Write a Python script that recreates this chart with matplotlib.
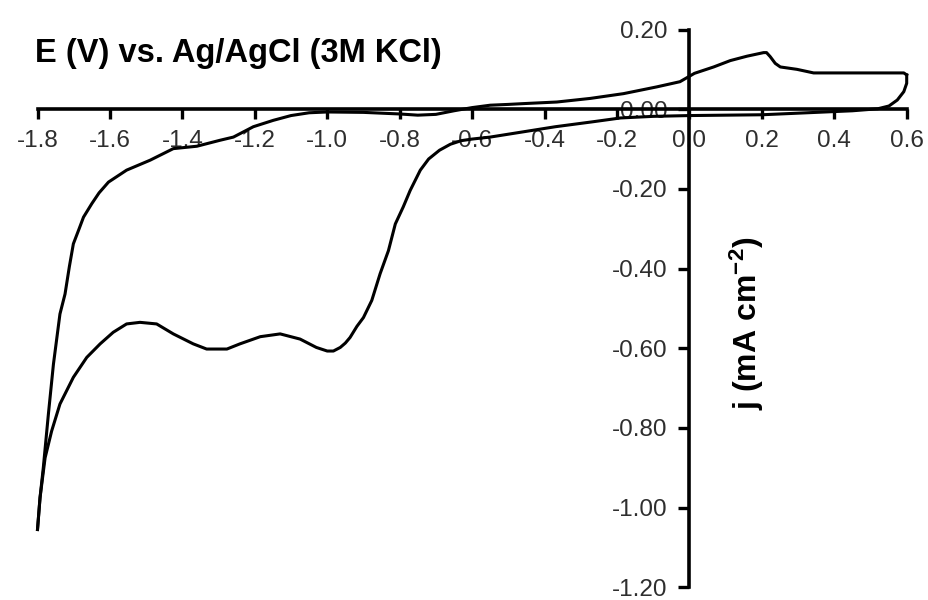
import matplotlib
matplotlib.use("Agg")
import matplotlib.pyplot as plt

plt.rcParams['font.family'] = ['Liberation Sans', 'DejaVu Sans']
plt.rcParams['mathtext.fontset'] = 'custom'
plt.rcParams['mathtext.rm'] = 'Liberation Sans'
plt.rcParams['mathtext.bf'] = 'Liberation Sans:bold'
plt.rcParams['mathtext.it'] = 'Liberation Sans:italic'

# ---- data ----
# cathodic scan: from +0.6 V down to -1.8 V
E_cathodic = [0.60, 0.600, 0.592, 0.574, 0.551, 0.52, 0.45, 0.40, 0.30, 0.20, 0.10, 0.00,
              -0.10, -0.19, -0.27, -0.37, -0.46, -0.55, -0.60, -0.63, -0.66, -0.69, -0.72,
              -0.743, -0.771, -0.79, -0.812, -0.831, -0.854, -0.877, -0.90, -0.918, -0.937,
              -0.95, -0.964, -0.983, -1.00, -1.03, -1.075, -1.13, -1.185, -1.241, -1.277,
              -1.333, -1.37, -1.425, -1.471, -1.517, -1.554, -1.591, -1.627, -1.664, -1.701,
              -1.738, -1.761, -1.779, -1.793, -1.80]
j_cathodic = [0.086, 0.065, 0.044, 0.023, 0.008, 0.001, -0.004, -0.006, -0.010, -0.014, -0.015,
              -0.016, -0.018, -0.022, -0.032, -0.044, -0.057, -0.070, -0.075, -0.079, -0.088,
              -0.103, -0.125, -0.153, -0.204, -0.245, -0.288, -0.355, -0.413, -0.480, -0.523,
              -0.545, -0.573, -0.587, -0.598, -0.607, -0.607, -0.598, -0.577, -0.564, -0.571,
              -0.589, -0.602, -0.602, -0.589, -0.564, -0.539, -0.535, -0.539, -0.560, -0.589,
              -0.623, -0.673, -0.740, -0.808, -0.875, -0.975, -1.055]

# anodic scan: from -1.8 V back up to +0.6 V
E_anodic = [-1.80, -1.793, -1.784, -1.77, -1.756, -1.738, -1.724, -1.712, -1.701, -1.685,
            -1.673, -1.65, -1.63, -1.604, -1.554, -1.489, -1.425, -1.36, -1.296, -1.259,
            -1.204, -1.149, -1.10, -1.05, -1.00, -0.90, -0.80, -0.75, -0.70, -0.65, -0.60,
            -0.55, -0.50, -0.458, -0.366, -0.274, -0.182, -0.09, -0.026, 0.014, 0.067, 0.113,
            0.159, 0.205, 0.213, 0.223, 0.237, 0.251, 0.297, 0.343, 0.45, 0.592, 0.60]
j_anodic = [-1.055, -0.975, -0.90, -0.766, -0.64, -0.514, -0.464, -0.395, -0.338, -0.30,
            -0.271, -0.237, -0.21, -0.183, -0.153, -0.128, -0.099, -0.093, -0.078, -0.070,
            -0.044, -0.028, -0.016, -0.009, -0.007, -0.008, -0.012, -0.015, -0.013, -0.004,
            0.004, 0.010, 0.012, 0.014, 0.018, 0.027, 0.039, 0.056, 0.069, 0.090, 0.106,
            0.122, 0.133, 0.142, 0.142, 0.132, 0.115, 0.106, 0.100, 0.091, 0.091, 0.091, 0.086]

x_ticks = [-1.8, -1.6, -1.4, -1.2, -1.0, -0.8, -0.6, -0.4, -0.2, 0.0, 0.2, 0.4, 0.6]
x_tick_labels = ["-1.8", "-1.6", "-1.4", "-1.2", "-1.0", "-0.8", "-0.6", "-0.4", "-0.2",
                 "0.0", "0.2", "0.4", "0.6"]
y_ticks = [0.20, 0.00, -0.20, -0.40, -0.60, -0.80, -1.00, -1.20]
y_tick_labels = ["0.20", "0.00", "-0.20", "-0.40", "-0.60", "-0.80", "-1.00", "-1.20"]

title_text = "E (V) vs. Ag/AgCl (3M KCl)"
ylabel_text = r"j (mA cm$^{\mathbf{-2}}$)"

# ---- figure ----
W, H = 929, 600
fig = plt.figure(figsize=(W / 100, H / 100), dpi=100)
ax = fig.add_axes([37.5 / W, 1 - 587.3 / H, (906.7 - 37.5) / W, (587.3 - 29.5) / H])

ax.plot(E_cathodic, j_cathodic, color='black', lw=2.2, clip_on=False, solid_joinstyle='round')
ax.plot(E_anodic, j_anodic, color='black', lw=2.2, clip_on=False, solid_joinstyle='round')

ax.set_xlim(-1.8, 0.6)
ax.set_ylim(-1.2, 0.2)

for s in ['top', 'right']:
    ax.spines[s].set_visible(False)
ax.spines['left'].set_position(('data', 0.0))
ax.spines['bottom'].set_position(('data', 0.0))
for s in ['left', 'bottom']:
    ax.spines[s].set_linewidth(2.6)
    ax.spines[s].set_color('black')

ax.set_xticks(x_ticks)
ax.set_xticklabels(x_tick_labels)
ax.set_yticks(y_ticks)
ax.set_yticklabels(y_tick_labels)
tick_col = '#2e2e2e'
ax.tick_params(axis='x', direction='out', length=7, width=2.4, pad=8,
               labelsize=17.5, labelcolor=tick_col, color='black')
ax.tick_params(axis='y', direction='out', length=8, width=2.4, pad=8,
               labelsize=17.5, labelcolor=tick_col, color='black')
ax.patch.set_alpha(0)

fig.text(35 / W, 1 - 62 / H, title_text, fontsize=23.5, fontweight='bold',
         ha='left', va='baseline', color='black')
fig.text(747 / W, 1 - 323 / H, ylabel_text, fontsize=23, fontweight='bold',
         rotation=90, ha='center', va='center', color='black')

fig.savefig('out.png', dpi=100, facecolor='white')
